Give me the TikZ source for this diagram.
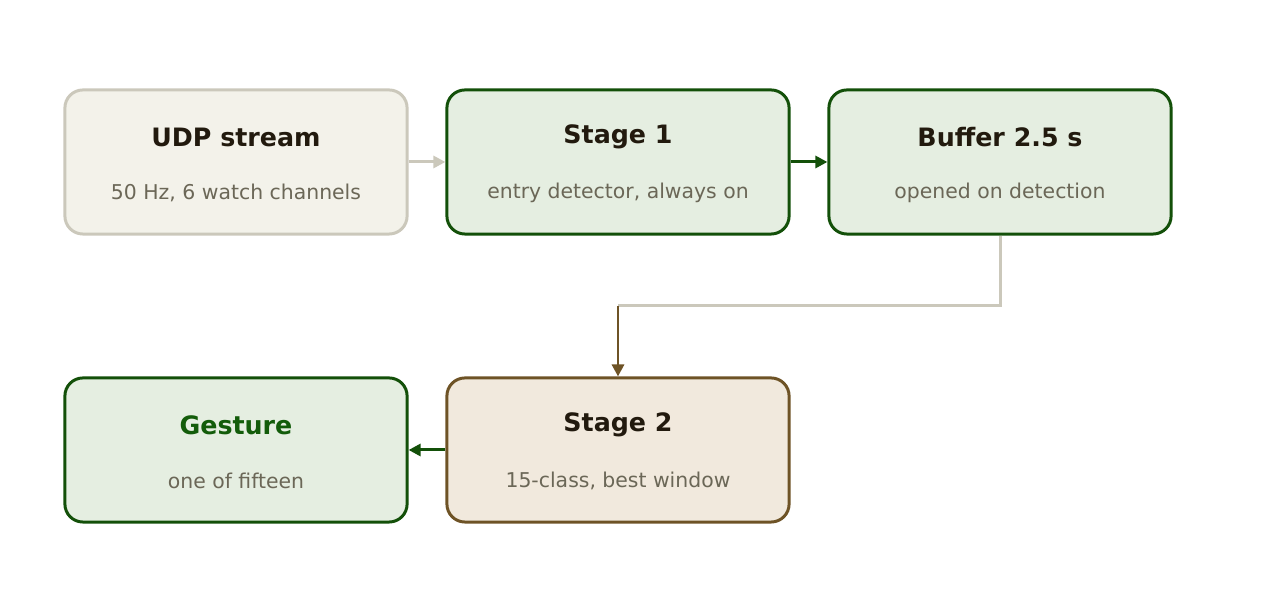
\documentclass[tikz,border=0pt]{standalone}
\usepackage{fontspec}
\setmainfont{DejaVu Sans}
\usetikzlibrary{arrows.meta,positioning}
\definecolor{inkdark}{HTML}{221A0E}
\definecolor{inksub}{HTML}{6B6757}
\definecolor{grayfill}{HTML}{F3F2EA}
\definecolor{grayline}{HTML}{CBC8BB}
\definecolor{greenfill}{HTML}{E5EEE1}
\definecolor{greenline}{HTML}{135009}
\definecolor{greentext}{HTML}{135C0A}
\definecolor{brownfill}{HTML}{F1E9DD}
\definecolor{brownline}{HTML}{6E5326}
\tikzset{
  box/.style={rounded corners=1.8mm,line width=0.85pt,minimum width=3.42cm,minimum height=1.44cm},
  graybox/.style={box,fill=grayfill,draw=grayline},
  greenbox/.style={box,fill=greenfill,draw=greenline},
  brownbox/.style={box,fill=brownfill,draw=brownline},
  ttl/.style={font=\bfseries\fontsize{7.2pt}{8pt}\selectfont,text=inkdark},
  sub/.style={font=\fontsize{5.8pt}{7pt}\selectfont,text=inksub},
  flow/.style={line width=0.85pt,-{Triangle[length=1.2mm,width=1.2mm]}}
}
\begin{document}
\begin{tikzpicture}[x=0.01cm,y=-0.01cm]
        \useasboundingbox (0,0) rectangle (1263,613);
        \node[graybox] (udp) at (236,162) {};
        \node[greenbox] (st1) at (618,162) {};
        \node[greenbox] (buf) at (1000,162) {};
        \node[greenbox] (ges) at (236,450) {};
        \node[brownbox] (st2) at (618,450) {};
        \node[ttl] at (236,137) {UDP stream};
        \node[sub] at (236,193) {50 Hz, 6 watch channels};
        \node[ttl] at (618,137) {Stage 1};
        \node[sub] at (618,193) {entry detector, always on};
        \node[ttl] at (1000,137) {Buffer 2.5 s};
        \node[sub] at (1000,193) {opened on detection};
        \node[ttl,text=greentext] at (236,425) {Gesture};
        \node[sub] at (236,481) {one of fifteen};
        \node[ttl] at (618,425) {Stage 2};
        \node[sub] at (618,481) {15-class, best window};
        \coordinate (bend) at (618,306);
        \draw[flow,grayline] (udp) -- (st1);
        \draw[flow,greenline] (st1) -- (buf);
        \draw[line width=0.85pt,grayline] (buf.south) |- (bend);
        \draw[flow,brownline] (bend) -- (st2);
        \draw[flow,greenline] (st2) -- (ges);
\end{tikzpicture}
\end{document}
